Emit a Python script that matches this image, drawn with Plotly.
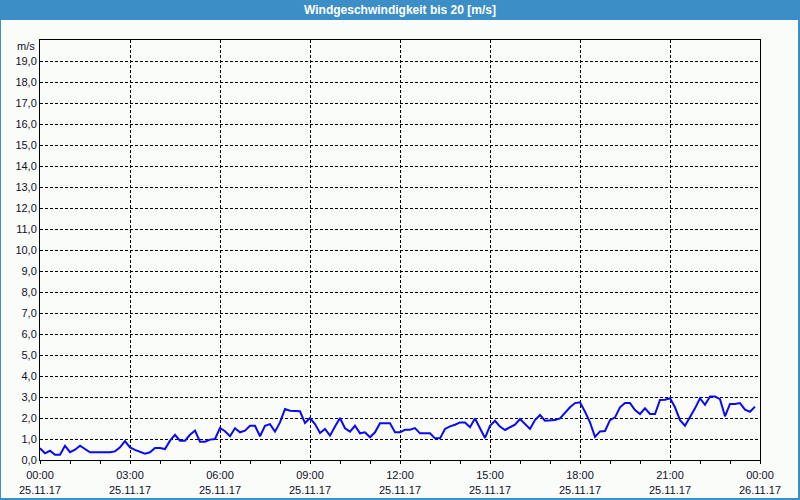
import plotly.graph_objects as go
import pandas as pd

# ---- data -----------------------------------------------------------------
title_text = "Windgeschwindigkeit bis 20 [m/s]"
unit_label = "m/s"
start_time = "2017-11-25 00:00"
sample_step = "10min"
wind_speed = [
    0.56, 0.32, 0.44, 0.25, 0.25, 0.68, 0.37, 0.49, 0.68, 0.52, 0.37, 0.37,
    0.37, 0.37, 0.37, 0.41, 0.60, 0.90, 0.60, 0.48, 0.40, 0.30, 0.37, 0.57,
    0.57, 0.52, 0.92, 1.20, 0.92, 0.92, 1.20, 1.40, 0.87, 0.87, 0.97, 1.00,
    1.53, 1.37, 1.13, 1.51, 1.32, 1.40, 1.63, 1.63, 1.13, 1.63, 1.71, 1.35,
    1.79, 2.43, 2.35, 2.35, 2.32, 1.76, 2.00, 1.71, 1.29, 1.48, 1.16, 1.60,
    2.00, 1.51, 1.35, 1.63, 1.27, 1.32, 1.08, 1.32, 1.75, 1.75, 1.75, 1.32,
    1.32, 1.44, 1.44, 1.52, 1.27, 1.27, 1.27, 1.03, 1.03, 1.48, 1.60, 1.68,
    1.79, 1.79, 1.56, 1.98, 1.51, 1.05, 1.63, 1.87, 1.59, 1.43, 1.56, 1.68,
    1.95, 1.71, 1.48, 1.90, 2.14, 1.87, 1.90, 1.90, 1.98, 2.24, 2.51, 2.71,
    2.75, 2.30, 1.79, 1.10, 1.36, 1.38, 1.90, 2.03, 2.51, 2.71, 2.71, 2.38,
    2.19, 2.46, 2.19, 2.19, 2.86, 2.87, 2.94, 2.51, 1.90, 1.63, 2.03, 2.46,
    2.94, 2.63, 3.02, 3.02, 2.90, 2.08, 2.67, 2.67, 2.71, 2.40, 2.30, 2.54,
]
times = pd.date_range(start_time, periods=len(wind_speed), freq=sample_step)

x_tick_vals = ["2017-11-25 00:00", "2017-11-25 03:00", "2017-11-25 06:00",
               "2017-11-25 09:00", "2017-11-25 12:00", "2017-11-25 15:00",
               "2017-11-25 18:00", "2017-11-25 21:00", "2017-11-26 00:00"]
x_tick_text = ["00:00<br>25.11.17", "03:00<br>25.11.17", "06:00<br>25.11.17",
               "09:00<br>25.11.17", "12:00<br>25.11.17", "15:00<br>25.11.17",
               "18:00<br>25.11.17", "21:00<br>25.11.17", "00:00<br>26.11.17"]
y_tick_vals = list(range(0, 20))

# ---- style ------------------------------------------------------------------
W, H = 800, 500
ML, MR, MT, MB = 40, 40, 40, 40
PW, PH = W - ML - MR, H - MT - MB
BLUE_FRAME = "#3C8FC6"
BG = "#FAFCF9"
FONT = "Liberation Sans, Arial, sans-serif"
TXT = "#10102a"


def px_x(p):
    return (p - ML) / PW


def px_y(p):
    return (H - MB - p) / PH


fig = go.Figure()
fig.add_trace(go.Scatter(
    x=times, y=wind_speed, mode="lines",
    line=dict(color="#0A0AEE", width=2),
    hoverinfo="x+y", showlegend=False,
))

fig.update_layout(
    width=W, height=H,
    margin=dict(l=ML, r=MR, t=MT, b=MB, pad=0, autoexpand=False),
    paper_bgcolor=BLUE_FRAME,
    plot_bgcolor=BG,
    separators=",.",
    font=dict(family=FONT, size=11, color=TXT),
    showlegend=False,
    shapes=[dict(type="rect", xref="paper", yref="paper",
                 x0=px_x(1), x1=px_x(798), y0=px_y(498), y1=px_y(20),
                 fillcolor=BG, line=dict(width=0), layer="below")],
    annotations=[
        dict(text=f"<b>{title_text}</b>", xref="paper", yref="paper",
             x=px_x(400), y=px_y(10), xanchor="center", yanchor="middle",
             showarrow=False, font=dict(family=FONT, size=12, color="white")),
        dict(text=unit_label, xref="paper", yref="paper",
             x=px_x(37), y=px_y(46), xanchor="right", yanchor="middle",
             showarrow=False, font=dict(family=FONT, size=11, color=TXT)),
    ],
)

fig.update_xaxes(
    type="date",
    range=["2017-11-25 00:00", "2017-11-26 00:00"],
    tickvals=x_tick_vals, ticktext=x_tick_text,
    ticks="outside", ticklen=3, tickcolor="black", ticklabelstandoff=2,
    showgrid=True, gridcolor="black", gridwidth=1, griddash="3px,2px",
    showline=True, linecolor="black", linewidth=1, mirror=True,
    zeroline=False, automargin=False,
    minor=dict(dtick=3600000, ticks="outside", ticklen=3, tickcolor="black",
               showgrid=False),
    tickfont=dict(family=FONT, size=11, color=TXT),
    fixedrange=True,
)
fig.update_yaxes(
    range=[0, 20],
    tickvals=y_tick_vals, tickformat=".1f",
    ticks="", showgrid=True, gridcolor="black", gridwidth=1, griddash="3px,2px",
    showline=True, linecolor="black", linewidth=1, mirror=True,
    zeroline=False, automargin=False,
    tickfont=dict(family=FONT, size=11, color=TXT),
    fixedrange=True,
)

fig.write_html("out.html", config=dict(displayModeBar=False))
